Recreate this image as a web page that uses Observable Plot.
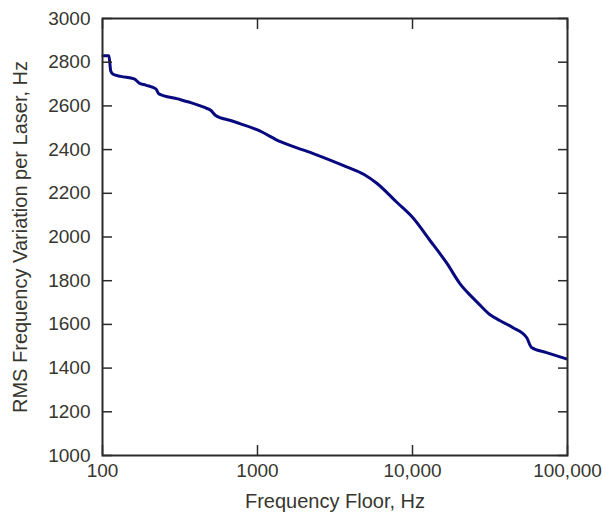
<!DOCTYPE html>
<html><head><meta charset="utf-8">
<script src="https://cdn.jsdelivr.net/npm/d3@7"></script>
<script src="https://cdn.jsdelivr.net/npm/@observablehq/plot@0.6"></script>
<style>body{margin:0;background:#fff}</style>
</head><body><div id="chart"></div>
<script>
const freqHz = [100.7, 110, 113, 117, 131, 160, 172, 190, 221, 231, 306, 371, 450, 499, 537, 671, 778, 1000, 1406, 2291, 3792, 4870, 5910, 7887, 10000, 12970, 16690, 20220, 23450, 26010, 31500, 36540, 44300, 54480, 58650, 73250, 98400];
const rmsHz = [2830, 2830, 2760, 2745, 2735, 2724, 2705, 2695, 2678, 2655, 2632, 2615, 2594, 2580, 2556, 2533, 2518, 2490, 2436, 2382, 2320, 2286, 2245, 2160, 2090, 1984, 1879, 1787, 1735, 1703, 1645, 1618, 1586, 1540, 1494, 1471, 1442];
const xTicks = [100, 1000, 10000, 100000];
const xTickLabels = ["100", "1000", "10,000", "100,000"];
const yTicks = [1000, 1200, 1400, 1600, 1800, 2000, 2200, 2400, 2600, 2800, 3000];
const xTitle = "Frequency Floor, Hz";
const yTitle = "RMS Frequency Variation per Laser, Hz";

const data = freqHz.map((f, i) => ({f, v: rmsHz[i]}));
const ink = "#36362f";
const axisInk = "#2a2a2a";
const chart = Plot.plot({
  width: 603, height: 516,
  marginLeft: 102, marginRight: 36, marginTop: 18, marginBottom: 61,
  style: {fontFamily: "'Liberation Sans', Arial, sans-serif", fontSize: "19px", color: ink, background: "#fff"},
  x: {type: "log", domain: [100, 100000]},
  y: {domain: [1000, 3000]},
  marks: [
    Plot.line(data, {x: "f", y: "v", stroke: "#08087f", strokeWidth: 3, curve: "monotone-x"}),
    Plot.axisX(xTicks, {anchor: "bottom", tickSize: -10, stroke: axisInk, strokeWidth: 1.5, tickFormat: () => "", label: null}),
    Plot.axisX(xTicks, {anchor: "top", tickSize: -10, stroke: axisInk, strokeWidth: 1.5, tickFormat: () => "", label: null}),
    Plot.axisY(yTicks, {anchor: "left", tickSize: -10, stroke: axisInk, strokeWidth: 1.5, tickFormat: () => "", label: null}),
    Plot.axisY(yTicks, {anchor: "right", tickSize: -10, stroke: axisInk, strokeWidth: 1.5, tickFormat: () => "", label: null}),
    Plot.axisX(xTicks, {anchor: "bottom", tickSize: 0, tickPadding: 8, tickFormat: d => xTickLabels[xTicks.indexOf(d)], label: null, fill: ink}),
    Plot.axisY(yTicks, {anchor: "left", tickSize: 0, tickPadding: 12, tickFormat: d => String(d), label: null, fill: ink}),
    Plot.frame({stroke: axisInk, strokeWidth: 2}),
    Plot.text([xTitle], {frameAnchor: "bottom", dy: 52, text: d => d, fill: ink, fontSize: 20}),
    Plot.text([yTitle], {frameAnchor: "left", dx: -82, rotate: -90, textAnchor: "middle", text: d => d, fill: ink, fontSize: 20})
  ]
});
document.getElementById("chart").append(chart);
</script>
</body></html>
